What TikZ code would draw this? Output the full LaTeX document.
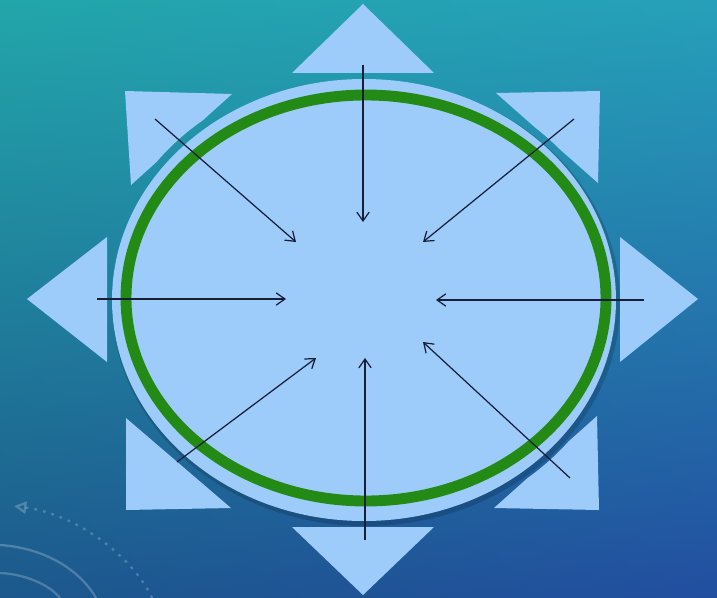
\documentclass[tikz,border=0pt]{standalone}
\usepackage{tikz}
\usetikzlibrary{arrows.meta,positioning,shadings}
\usepackage{xcolor}
\definecolor{SkyFill}{RGB}{158,204,250}
\definecolor{RingGreen}{RGB}{36,138,22}
\definecolor{ArrowInk}{RGB}{22,30,58}
\definecolor{BgTL}{RGB}{34,166,170}
\definecolor{BgTR}{RGB}{38,160,186}
\definecolor{BgBL}{RGB}{28,88,140}
\definecolor{BgBR}{RGB}{34,78,160}

\begin{document}
\begin{tikzpicture}[x=0.02cm,y=-0.02cm,
  petal/.style={fill=SkyFill},
  arr/.style={-{Straight Barb[length=5pt,width=7pt]},line width=0.7pt,draw=ArrowInk},
  deco/.style={draw=white,draw opacity=0.22,line width=1.3pt},
]
\useasboundingbox (0,0) rectangle (717,598);
\shade[upper left=BgTL,upper right=BgTR,lower left=BgBL,lower right=BgBR]
  (0,0) rectangle (717,598);

\draw[deco,dash pattern=on 1.5pt off 3.5pt,-{Triangle[length=7pt,width=7pt,open=false]}]
  (152,598) .. controls (135,560) and (80,515) .. (14,506);
\draw[deco] (0,545) .. controls (45,548) and (80,570) .. (96,598);
\draw[deco] (0,573) .. controls (25,574) and (50,585) .. (60,598);

\fill[petal] (363,4) -- (434,73) -- (292,73) -- cycle;
\fill[petal] (363,595) -- (434,527) -- (292,527) -- cycle;
\fill[petal] (27,299) -- (107,237) -- (107,362) -- cycle;
\fill[petal] (698,299) -- (620,237) -- (620,362) -- cycle;
\begin{scope}[even odd rule]
  \clip (0,0) rectangle (717,598)
    (364,300) ellipse [x radius=260, y radius=229];
  \fill[petal] (125,91) -- (232,94) -- (131,185) -- cycle;
  \fill[petal] (496,93) -- (600,91) -- (598,183) -- cycle;
  \fill[petal] (126,418) -- (126,510) -- (231,508) -- cycle;
  \fill[petal] (597,416) -- (599,510) -- (494,508) -- cycle;
\end{scope}

\fill[black,opacity=0.16] (366,303) ellipse [x radius=254, y radius=223];
\fill[SkyFill] (364,300) ellipse [x radius=252, y radius=221];
\draw[RingGreen,line width=6.2pt] (366,298) ellipse [x radius=240, y radius=203];

\coordinate (nFrom) at (363,65);   \coordinate (nTo) at (363,222);
\coordinate (sFrom) at (365,540);  \coordinate (sTo) at (365,358);
\coordinate (wFrom) at (97,299);   \coordinate (wTo) at (286,299);
\coordinate (eFrom) at (644,300);  \coordinate (eTo) at (436,300);
\coordinate (nwFrom) at (155,119); \coordinate (nwTo) at (296,242);
\coordinate (neFrom) at (574,119); \coordinate (neTo) at (423,242);
\coordinate (swFrom) at (177,462); \coordinate (swTo) at (316,358);
\coordinate (seFrom) at (570,478); \coordinate (seTo) at (423,342);

\draw[arr] (nFrom) -- (nTo);
\draw[arr] (sFrom) -- (sTo);
\draw[arr] (wFrom) -- (wTo);
\draw[arr] (eFrom) -- (eTo);
\draw[arr] (nwFrom) -- (nwTo);
\draw[arr] (neFrom) -- (neTo);
\draw[arr] (swFrom) -- (swTo);
\draw[arr] (seFrom) -- (seTo);
\end{tikzpicture}
\end{document}
